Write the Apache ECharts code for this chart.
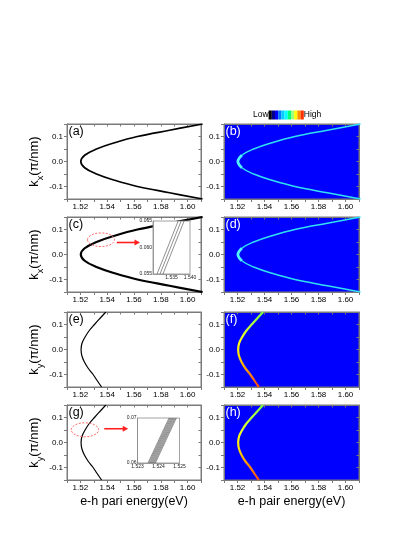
<!DOCTYPE html>
<html><head><meta charset="utf-8">
<script src="https://cdn.jsdelivr.net/npm/echarts@6/dist/echarts.min.js"></script>
<style>html,body{margin:0;padding:0;background:#fff}#c{width:415px;height:537px}</style>
</head><body><div id="c"></div>
<script>
// ---- data ----
const kVals = [0.15, 0.125, 0.1, 0.075, 0.05, 0.025, 0, -0.025, -0.05, -0.075, -0.1, -0.125, -0.15];
const eKx   = [1.6112, 1.5865, 1.5625, 1.5455, 1.5320, 1.5232, 1.5203, 1.5232, 1.5320, 1.5455, 1.5625, 1.5865, 1.6112];
const eKy   = [1.5390, 1.5347, 1.5305, 1.5265, 1.5235, 1.5212, 1.5205, 1.5211, 1.5230, 1.5258, 1.5295, 1.5326, 1.5358];
const xTicks = ['1.52', '1.54', '1.56', '1.58', '1.60'];
const yTicks = ['-0.1', '0.0', '0.1'];
const insetCK = [0.055, 0.065];
const insetCBottomE = [1.5311, 1.5319, 1.5327];
const insetCTopE    = [1.5368, 1.5376, 1.5384];
const insetCXTicks = ['1.535', '1.540'];
const insetGK = [0.06, 0.07];
const insetGBottomE = [1.52350, 1.52355, 1.52360, 1.52365, 1.52370, 1.52375, 1.52380, 1.52385];
const insetGTopE    = [1.52450, 1.52455, 1.52460, 1.52465, 1.52470, 1.52475, 1.52480, 1.52485];
const colorbarColors = ['#000000', '#00008c', '#0000ff', '#0078ff', '#00ccff', '#00ffff', '#00ff80', '#a0ff80', '#ffff00', '#ff9000', '#ff3000'];
const pairColors = ['#ff4a10', '#ff7a10', '#ffb000', '#ffe000', '#ffff10', '#d8ff30', '#a8ff40', '#78ff40'];
const panelNames = ['(a)', '(b)', '(c)', '(d)', '(e)', '(f)', '(g)', '(h)'];
const xTitles = ['e-h pari energy(eV)', 'e-h pair energy(eV)'];

// ---- layout ----
const FONT = 'Liberation Sans, Arial, sans-serif';
const rowsTop = [124, 217, 312, 405];
const colLeft = [67, 224];
const colWidth = [134, 135];
const panelH = 75;
const frame = '#7a7a7a';

function xFmt(v) { const s = v.toFixed(2); return xTicks.indexOf(s) >= 0 ? s : ''; }
function yFmt(v) {
  const t = v * 10;
  if (Math.abs(t - Math.round(t)) > 1e-6) return '';
  const s = (Math.round(t) / 10).toFixed(1);
  return yTicks.indexOf(s) >= 0 ? s : '';
}

const grids = [], xAxes = [], yAxes = [], series = [];
const fhSeries = [];
for (let r = 0; r < 4; r++) {
  for (let c = 0; c < 2; c++) {
    const gi = r * 2 + c;
    grids.push({ left: colLeft[c], top: rowsTop[r], width: colWidth[c], height: panelH, show: true,
      borderColor: frame, borderWidth: 1, backgroundColor: c === 1 ? '#0000ff' : 'transparent' });
    const xa = { type: 'value', gridIndex: gi, position: 'bottom', min: 1.51, max: 1.61, interval: 0.01,
      axisLine: { show: true, onZero: false, lineStyle: { color: frame } },
      axisTick: { show: true, length: 3, inside: false, lineStyle: { color: frame } },
      axisLabel: { formatter: xFmt, fontSize: 8, color: '#000', margin: 4, fontFamily: FONT },
      splitLine: { show: false } };
    if (r === 3) {
      xa.name = xTitles[c]; xa.nameLocation = 'middle'; xa.nameGap = 15;
      xa.nameTextStyle = { fontSize: 12.5, color: '#000', fontFamily: FONT };
    }
    xAxes.push(xa);
    xAxes.push({ type: 'value', gridIndex: gi, position: 'top', min: 1.51, max: 1.61, interval: 0.01,
      axisLine: { show: true, onZero: false, lineStyle: { color: frame } },
      axisTick: { show: true, length: 2.5, inside: true, lineStyle: { color: frame } },
      axisLabel: { show: false }, splitLine: { show: false } });
    const ya = { type: 'value', gridIndex: gi, position: 'left', min: -0.15, max: 0.15, interval: 0.05,
      axisLine: { show: true, onZero: false, lineStyle: { color: frame } },
      axisTick: { show: true, length: 3, inside: false, lineStyle: { color: frame } },
      axisLabel: { formatter: yFmt, fontSize: 8, color: '#000', margin: 4, fontFamily: FONT },
      splitLine: { show: false } };
    if (c === 0) {
      const sub = r < 2 ? 'x' : 'y';
      ya.name = '{k|k}{s|' + sub + '}{k|(π/nm)}';
      ya.nameLocation = 'middle'; ya.nameGap = 20;
      ya.nameTextStyle = { color: '#000', rich: {
        k: { fontSize: 13, lineHeight: 14, verticalAlign: 'top', fontFamily: FONT, color: '#000' },
        s: { fontSize: 9, lineHeight: 9, padding: [8, 0, 0, 0], verticalAlign: 'top', fontFamily: FONT, color: '#000' } } };
    }
    yAxes.push(ya);
    yAxes.push({ type: 'value', gridIndex: gi, position: 'right', min: -0.15, max: 0.15, interval: 0.05,
      axisLine: { show: true, onZero: false, lineStyle: { color: frame } },
      axisTick: { show: true, length: 2.5, inside: true, lineStyle: { color: frame } },
      axisLabel: { show: false }, splitLine: { show: false } });

    const eArr = r < 2 ? eKx : eKy;
    const data = kVals.map((k, i) => [eArr[i], k]);
    let ls;
    if (c === 0) ls = { color: '#000', width: r === 0 ? 1.7 : (r === 1 ? 2.2 : 1.2) };
    else ls = r < 2 ? { color: '#30e0f0', width: 1.5 } : { width: 2.2 };
    if (c === 1 && r >= 2) fhSeries.push(series.length);
    series.push({ type: 'line', xAxisIndex: gi * 2, yAxisIndex: gi * 2, data: data, showSymbol: false,
      smooth: 0.4, lineStyle: ls, clip: true, z: 3 });
    if (c === 1 && r < 2) {
      // brighter, wider vertex of the cyan band
      series.push({ type: 'line', xAxisIndex: gi * 2, yAxisIndex: gi * 2, data: data.slice(5, 8), showSymbol: false,
        smooth: 0.4, lineStyle: { color: '#50f4ff', width: 2.8 }, clip: true, z: 4 });
    }
  }
}

// insets
const insets = [
  { left: 153, top: 221, width: 37, height: 53, xmin: 1.530, xmax: 1.540, xint: 0.005, ymin: 0.055, ymax: 0.065, yint: 0.005,
    xf: v => { const s = v.toFixed(3); return insetCXTicks.indexOf(s) >= 0 ? s : ''; }, yf: v => v.toFixed(3),
    k: insetCK, b: insetCBottomE, t: insetCTopE },
  { left: 137.5, top: 418, width: 42, height: 45, xmin: 1.523, xmax: 1.525, xint: 0.001, ymin: 0.06, ymax: 0.07, yint: 0.01,
    xf: v => v.toFixed(3), yf: v => v.toFixed(2),
    k: insetGK, b: insetGBottomE, t: insetGTopE }
];
insets.forEach((ins, n) => {
  const gi = grids.length;
  grids.push({ left: ins.left, top: ins.top, width: ins.width, height: ins.height, show: true, z: 5,
    borderColor: '#8a8a8a', borderWidth: 0.8, backgroundColor: '#fff' });
  const xi = xAxes.length, yi = yAxes.length;
  xAxes.push({ type: 'value', gridIndex: gi, min: ins.xmin, max: ins.xmax, interval: ins.xint, z: 6,
    axisLine: { show: true, onZero: false, lineStyle: { color: '#8a8a8a', width: 0.8 } }, axisTick: { show: false },
    axisLabel: { formatter: ins.xf, fontSize: 5, color: '#222', margin: 1, fontFamily: FONT }, splitLine: { show: false } });
  yAxes.push({ type: 'value', gridIndex: gi, min: ins.ymin, max: ins.ymax, interval: ins.yint, z: 6,
    axisLine: { show: true, onZero: false, lineStyle: { color: '#8a8a8a', width: 0.8 } }, axisTick: { show: false },
    axisLabel: { formatter: ins.yf, fontSize: 5, color: '#222', margin: 1, fontFamily: FONT }, splitLine: { show: false } });
  ins.b.forEach((e0, i) => {
    series.push({ type: 'line', xAxisIndex: xi, yAxisIndex: yi, data: [[e0, ins.k[0]], [ins.t[i], ins.k[1]]],
      showSymbol: false, lineStyle: { color: '#444', width: 0.6 }, z: 7 });
  });
});

const dummyIdx = series.length;
series.push({ type: 'scatter', xAxisIndex: 0, yAxisIndex: 0, data: [], silent: true });

const option = {
  animation: false,
  backgroundColor: '#fff',
  textStyle: { fontFamily: FONT },
  grid: grids, xAxis: xAxes, yAxis: yAxes, series: series,
  visualMap: [
    { type: 'piecewise', show: true, seriesIndex: [dummyIdx], orient: 'horizontal', left: 253, top: 110.5,
      itemWidth: 3.2, itemHeight: 9, itemGap: 0, itemSymbol: 'rect', showLabel: false, selectedMode: false,
      text: ['High', 'Low'], textGap: 1, padding: 0, textStyle: { fontSize: 8.5, color: '#000', fontFamily: FONT },
      pieces: colorbarColors.map((col, i) => ({ min: i, max: i + 1, color: col })) },
    { type: 'continuous', show: false, seriesIndex: fhSeries, dimension: 1, min: -0.15, max: 0.15,
      inRange: { color: pairColors } }
  ]
};

const chart = echarts.init(document.getElementById('c'), null, { renderer: 'canvas' });
chart.setOption(option);

// annotations positioned in data coordinates
function px(gi, pt) { return chart.convertToPixel({ gridIndex: gi }, pt); }
const graphics = [];
for (let i = 0; i < 8; i++) {
  const r = Math.floor(i / 2), c = i % 2;
  graphics.push({ type: 'text', x: colLeft[c] + 1.5, y: rowsTop[r] + 1, z: 10,
    style: { text: panelNames[i], fontSize: 12.5, fontFamily: FONT, fill: c === 1 ? '#fff' : '#000' } });
}
function annot(gi, center, rx, ry, a0, a1) {
  const p = px(gi, center), s = px(gi, a0), e = px(gi, a1);
  graphics.push({ type: 'ellipse', z: 10, shape: { cx: p[0], cy: p[1], rx: rx, ry: ry },
    style: { fill: 'none', stroke: '#ff6a6a', lineWidth: 1, lineDash: [2, 1.5] } });
  graphics.push({ type: 'line', z: 10, shape: { x1: s[0], y1: s[1], x2: e[0] - 4, y2: e[1] },
    style: { stroke: '#ff2020', lineWidth: 1.6 } });
  graphics.push({ type: 'polygon', z: 10, shape: { points: [[e[0], e[1]], [e[0] - 5.5, e[1] - 3], [e[0] - 5.5, e[1] + 3]] },
    style: { fill: '#ff2020' } });
}
annot(2, [1.5354, 0.059], 13.5, 6.8, [1.5471, 0.048], [1.5645, 0.048]);
annot(6, [1.5234, 0.0508], 13.7, 7, [1.5378, 0.055], [1.5557, 0.055]);
chart.setOption({ graphic: graphics });
</script>
</body></html>
